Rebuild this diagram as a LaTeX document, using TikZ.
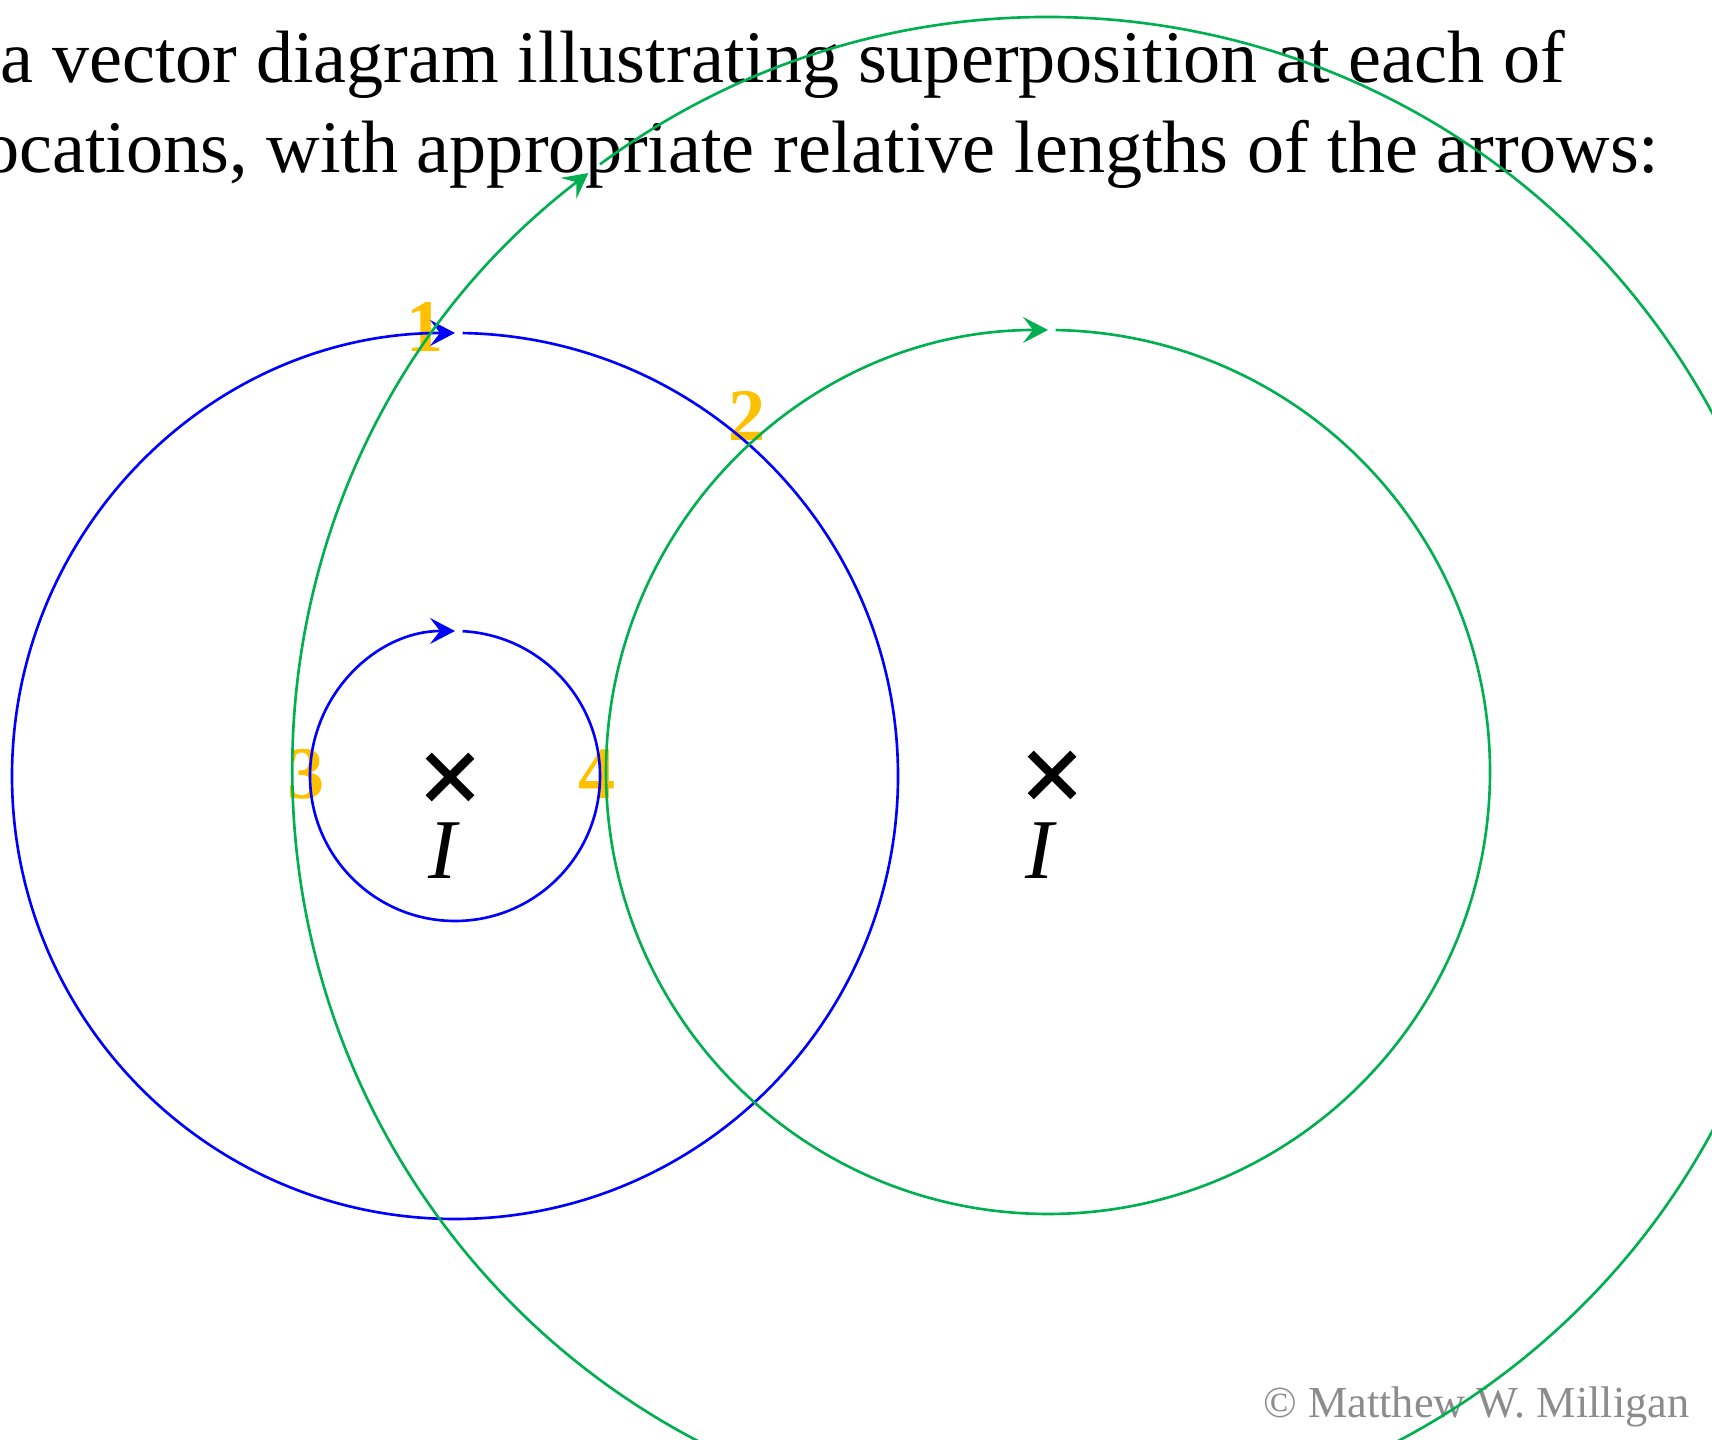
\documentclass[tikz,border=0pt]{standalone}
\usepackage{fontspec}
\setmainfont{Liberation Serif}
\usetikzlibrary{arrows.meta, calc, shapes.misc}
\definecolor{fieldblue}{HTML}{0000FF}
\definecolor{fieldgreen}{HTML}{00B050}
\definecolor{pointgold}{HTML}{FFC000}
\definecolor{creditgray}{HTML}{8C8C8C}

\begin{document}
\begin{tikzpicture}[
  x=0.01cm, y=0.01cm,
  title/.style={font=\fontsize{21.1}{25}\selectfont, inner sep=0pt},
  pointlabel/.style={text=pointgold, font=\fontsize{21.1}{25}\selectfont\bfseries, inner sep=0pt},
  current/.style={font=\fontsize{24.2}{29}\selectfont\itshape, inner sep=0pt},
  wirecross/.style={draw, cross out, line width=0.085cm, inner sep=0pt, minimum size=0.34cm},
  fieldline/.style={line width=0.75pt, -{Stealth[length=2.5mm, width=2.6mm, inset=1mm]}}
]
  \useasboundingbox (0,0) rectangle (1712,1440);
  \clip (0,0) rectangle (1712,1440);

  % question text
  \node[title, anchor=base west] (titleA) at (0,1357) {a vector diagram illustrating superposition at each of};
  \node[title, anchor=base east] (titleB) at (1660,1267) {ocations, with appropriate relative lengths of the arrows:};
  \node[font=\fontsize{12.6}{15}\selectfont, text=creditgray, anchor=base east, inner sep=0pt] (credit) at (1690,22) {© Matthew W. Milligan};

  % numbered locations
  \node[pointlabel] (pt1) at (425,1113) {1};
  \node[pointlabel] (pt2) at (747,1024) {2};
  \node[pointlabel] (pt3) at (306,666) {3};
  \node[pointlabel] (pt4) at (597,666) {4};

  % wires (current into page)
  \coordinate (wireL) at (455,664);
  \coordinate (wireR) at (1048,668);
  \node[wirecross] (crossL) at (450,663) {};
  \node[wirecross] (crossR) at (1052,665) {};
  \node[current] (currL) at (443,589) {I};
  \node[current] (currR) at (1040,589) {I};

  % field lines
  \draw[fieldline, fieldblue] ($(wireL)+(87:145)$) arc[start angle=87, end angle=-270, radius=145];
  \draw[fieldline, fieldblue] ($(wireL)+(89:443)$) arc[start angle=89, end angle=-270, radius=443];
  \draw[fieldline, fieldgreen] ($(wireR)+(89:442)$) arc[start angle=89, end angle=-270, radius=442];
  \draw[fieldline, fieldgreen] ($(wireR)+(126.4:755)$) arc[start angle=126.4, end angle=-232.5, radius=755];
\end{tikzpicture}
\end{document}
